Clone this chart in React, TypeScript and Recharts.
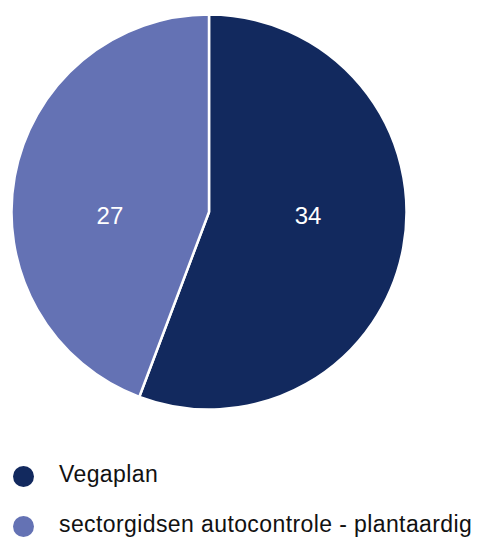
import { PieChart, Pie, Cell, Legend } from 'recharts';

const categories = ['Vegaplan', 'sectorgidsen autocontrole - plantaardig'];
const counts = [34, 27];
const colors = ['#12295e', '#6472b4'];

const data = categories.map((name, i) => ({ name, value: counts[i] }));

const RAD = Math.PI / 180;

function renderLabel(props: any) {
  const { cx, cy, midAngle, outerRadius, value } = props;
  const x = cx + outerRadius * 0.51 * Math.cos(-midAngle * RAD);
  return (
    <text
      x={x}
      y={cy + 6}
      fill="#ffffff"
      textAnchor="middle"
      dominantBaseline="middle"
      fontSize={24}
      fontFamily="Liberation Sans, Arial, sans-serif"
    >
      {value}
    </text>
  );
}

function LegendList() {
  return (
    <div style={{ width: 481, overflow: 'hidden', whiteSpace: 'nowrap' }}>
      {categories.map((name, i) => (
        <div key={name} style={{ display: 'flex', alignItems: 'center', height: 50 }}>
          <div
            style={{
              width: 21,
              height: 21,
              borderRadius: '50%',
              background: colors[i],
              marginLeft: 12.5,
              marginRight: 25.5,
              flexShrink: 0,
            }}
          />
          <span
            style={{
              fontSize: 23,
              letterSpacing: 0.4,
              color: '#111111',
              fontFamily: 'Liberation Sans, Arial, sans-serif',
              position: 'relative',
              top: -2,
            }}
          >
            {name}
          </span>
        </div>
      ))}
    </div>
  );
}

export default function App() {
  return (
    <div style={{ position: 'absolute', top: 0, left: 0, width: 481, height: 537, overflow: 'hidden', background: '#fff' }}>
      <PieChart width={481} height={537} margin={{ top: 0, right: 0, bottom: 0, left: 0 }}>
        <Pie
          data={data}
          dataKey="value"
          nameKey="name"
          cx={209}
          cy={212}
          outerRadius={197.5}
          startAngle={90}
          endAngle={-270}
          stroke="#ffffff"
          strokeWidth={2.5}
          label={renderLabel}
          labelLine={false}
          isAnimationActive={false}
        >
          {data.map((d, i) => (
            <Cell key={d.name} fill={colors[i]} />
          ))}
        </Pie>
        <Legend
          content={() => <LegendList />}
          wrapperStyle={{ position: 'absolute', top: 451, left: 0, width: 481 }}
        />
      </PieChart>
    </div>
  );
}
